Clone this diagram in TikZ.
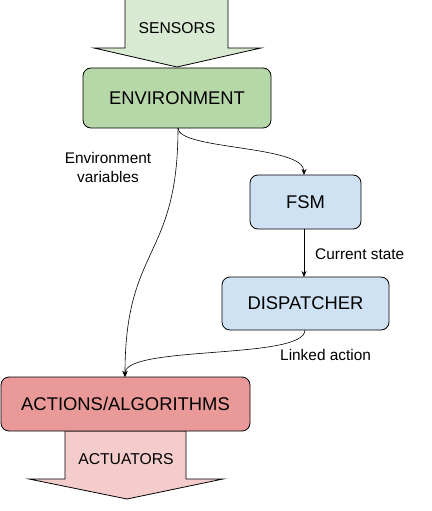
\documentclass[tikz,border=0pt]{standalone}
\usepackage{fontspec}
\setmainfont{Liberation Sans}
\usetikzlibrary{arrows.meta}
\definecolor{envgreen}{HTML}{B6D7A8}
\definecolor{sensgreen}{HTML}{D9EAD3}
\definecolor{boxblue}{HTML}{CFE2F3}
\definecolor{actred}{HTML}{EA9999}
\definecolor{actpink}{HTML}{F4CCCC}
\tikzset{
  box/.style={draw=black, line width=0.8pt, rounded corners=8pt, inner sep=0pt,
    font=\fontsize{18.4}{22}\selectfont},
  bigarrow/.style={draw=black, line width=0.8pt},
  arrowlabel/.style={font=\fontsize{15.7}{19}\selectfont, inner sep=0pt},
  conn/.style={draw=black, line width=0.6pt, -{Stealth[length=6pt,width=5pt]}},
  lbl/.style={font=\fontsize{15.4}{19}\selectfont, inner sep=0pt, align=center},
}
\begin{document}
\begin{tikzpicture}[x=1pt,y=-1pt]
\useasboundingbox (0,0) rectangle (431,511);
% sensors arrow
\fill[sensgreen] (125,-2) -- (125,48) -- (94,48) -- (177,67) -- (261,48) -- (228,48) -- (228,-2) -- cycle;
\draw[bigarrow] (125,-2) -- (125,48) -- (94,48) -- (177,67) -- (261,48) -- (228,48) -- (228,-2);
\node[arrowlabel] (sensors) at (177,28) {SENSORS};
% actuators arrow
\draw[bigarrow, fill=actpink] (65,431) -- (65,479) -- (29,479) -- (127,499) -- (223,479) -- (186,479) -- (186,431) -- cycle;
\node[arrowlabel] (actuators) at (126,459) {ACTUATORS};
% boxes
\node[box, fill=envgreen, minimum width=188pt, minimum height=60pt] (env) at (177,98) {ENVIRONMENT};
\node[box, fill=boxblue, minimum width=111pt, minimum height=54pt] (fsm) at (305.5,202) {FSM};
\node[box, fill=boxblue, minimum width=167pt, minimum height=53pt] (disp) at (305.5,303.5) {DISPATCHER};
\node[box, fill=actred, minimum width=249pt, minimum height=54pt] (act) at (125.5,404) {ACTIONS/ALGORITHMS};
% connectors
\coordinate (envout) at (178,128);
\coordinate (fsmin) at (304,175);
\coordinate (fsmout) at (304,229);
\coordinate (dispin) at (304,277);
\coordinate (dispout) at (305,330);
\coordinate (actin) at (125,377);
\draw[conn] (envout) .. controls (178,150) and (304,145) .. (fsmin);
\draw[conn] (envout) .. controls (178,260) and (125,245) .. (actin);
\draw[conn] (fsmout) -- (dispin);
\draw[conn] (dispout) .. controls (305,360) and (125,345) .. (actin);
% labels
\node[lbl] (lenv) at (108,167) {Environment\\variables};
\node[lbl, anchor=west] (lcur) at (315,254) {Current state};
\node[lbl, anchor=west] (llink) at (280,355) {Linked action};
\end{tikzpicture}
\end{document}
